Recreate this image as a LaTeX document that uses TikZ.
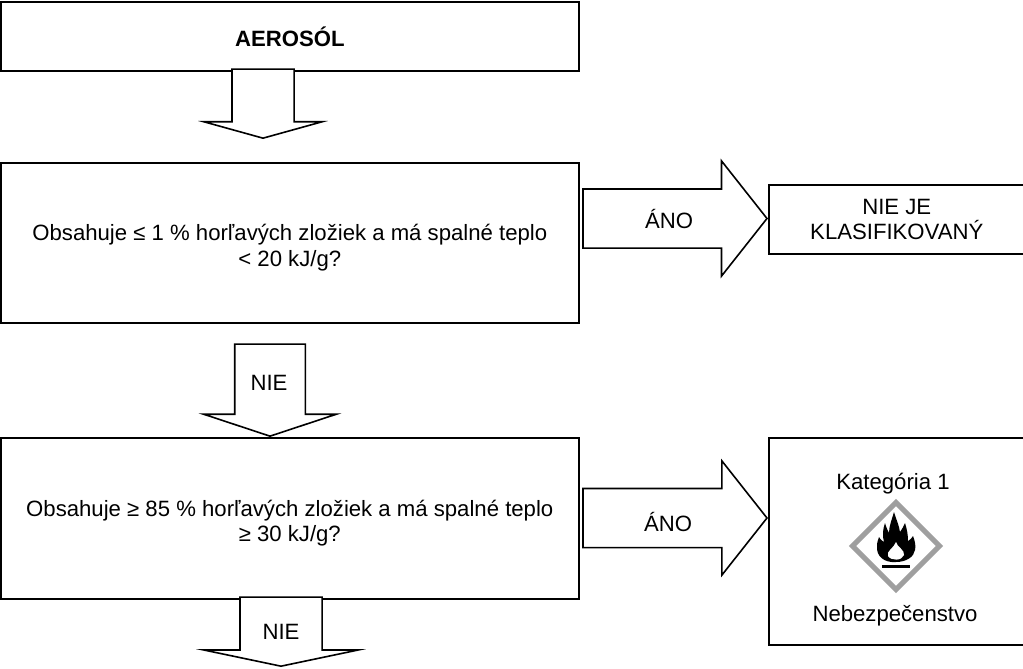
\documentclass[tikz,border=0pt]{standalone}
\usepackage{fontspec}
\setmainfont{Liberation Sans}
\usetikzlibrary{shapes.arrows}
\tikzset{
  boxnode/.style={draw, line width=1.6pt, inner sep=0pt, align=center, anchor=north west},
  arrowbase/.style n args={3}{single arrow, draw, line width=1.6pt, fill=white,
    minimum height=#1, single arrow head extend=#2,
    single arrow tip angle=#3, single arrow head indent=0pt, anchor=tip},
  arrowdown/.style n args={4}{arrowbase={#2}{#3}{#4}, inner xsep=#1/2, inner ysep=0pt, shape border rotate=270},
  arrowright/.style n args={4}{arrowbase={#2}{#3}{#4}, inner ysep=#1/2, inner xsep=0pt},
  plaintext/.style={inner sep=0pt}
}
\newcommand{\downshift}{\rule{0pt}{26pt}}
\begin{document}
\begin{tikzpicture}[x=1pt,y=-1pt]
        \useasboundingbox (0,0) rectangle (1023,669);
        \fontsize{22.15}{25.5}\selectfont

        \begin{scope}[every node/.style={boxnode}]
          \node (aerosol) [minimum width=578pt, minimum height=69pt] at (0,1) {\textbf{AEROSÓL}};
          \node (otazka1) [minimum width=578pt, minimum height=160pt] at (0,162)
            {\downshift Obsahuje ≤ 1 \% horľavých zložiek a má spalné teplo\\< 20 kJ/g?};
          \node (otazka2) [minimum width=578pt, minimum height=161pt] at (0,437)
            {\downshift Obsahuje ≥ 85 \% horľavých zložiek a má spalné teplo\\≥ 30 kJ/g?};
          \node (vysledok1) [minimum width=256pt, minimum height=69pt] at (768,184)
            {NIE JE\\KLASIFIKOVANÝ};
          \node (vysledok2) [minimum width=256pt, minimum height=207pt] at (768,437) {};
        \end{scope}

        \node (sipka1) [arrowdown={60.5pt}{69pt}{28pt}{149}] at (263,139) {};
        \node (sipka2) [arrowdown={69pt}{92pt}{31pt}{143.4}] at (270,437) {};
        \node (sipka3) [arrowdown={80.5pt}{69pt}{36pt}{156.3}] at (281,667) {};
        \node (sipka4) [arrowright={57.5pt}{184pt}{28pt}{103.4}] at (768,218.5) {};
        \node (sipka5) [arrowright={57.5pt}{184pt}{27.5pt}{103.4}] at (768,518) {};

        \node (nie1) [plaintext] at (269,383) {NIE};
        \node (nie2) [plaintext] at (281,632) {NIE};
        \node (ano1) [plaintext] at (669,219) {ÁNO};
        \node (ano2) [plaintext] at (668,522) {ÁNO};
        \node (kategoria) [plaintext] at (893,484) {Kategória 1};
        \node (nebezpecenstvo) [plaintext] at (895,616) {Nebezpečenstvo};

        \draw[line width=5pt, gray!75, fill=white, line join=miter] (896,502.5) -- (939.5,546) -- (896,589.5) -- (852.5,546) -- cycle;
        \fill (896,562) .. controls (884,563) and (876,556) .. (877,546)
          .. controls (877,542) and (878,540) .. (879,537)
          .. controls (881,540) and (882,541) .. (884,542)
          .. controls (882,535) and (883,529) .. (885,523)
          .. controls (886,527) and (888,531) .. (889,533)
          .. controls (889,526) and (892,519) .. (894,512)
          .. controls (896,519) and (899,525) .. (900,532)
          .. controls (902,529) and (904,526) .. (905,523)
          .. controls (907,529) and (908,535) .. (908,541)
          .. controls (910,540) and (912,538) .. (913,536)
          .. controls (915,541) and (916,546) .. (915,550)
          .. controls (914,557) and (906,562) .. (896,562) -- cycle;
        \fill[white] (896,542) .. controls (897,547) and (905,550) .. (904,555)
          .. controls (902,561) and (891,561) .. (888,556)
          .. controls (886,551) and (894,548) .. (896,542) -- cycle;
        \fill (882,565) rectangle (910,568);

      \end{tikzpicture}
\end{document}
